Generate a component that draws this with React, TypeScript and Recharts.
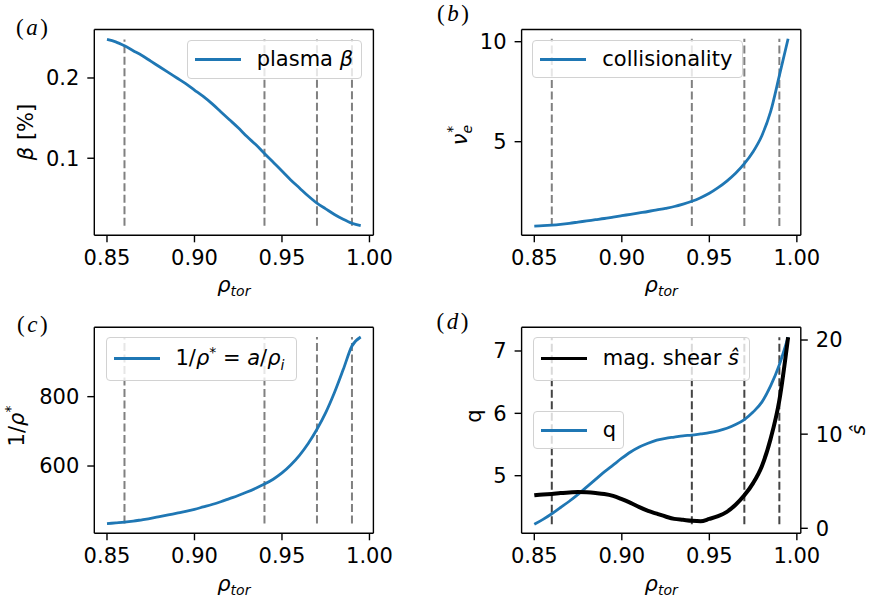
import React from "react";
import { LineChart, Line, XAxis, YAxis, ReferenceLine, Legend } from "recharts";

// radial grid (rho_tor) and profiles
const rho = [0.85, 0.855, 0.86, 0.865, 0.87, 0.875, 0.88, 0.885, 0.89, 0.895, 0.9, 0.905, 0.91, 0.915, 0.92, 0.925, 0.93, 0.935, 0.94, 0.945, 0.95, 0.955, 0.96, 0.965, 0.97, 0.975, 0.98, 0.985, 0.99, 0.995];
const beta = [0.248, 0.245, 0.24, 0.234, 0.228, 0.221, 0.214, 0.207, 0.2, 0.193, 0.185, 0.177, 0.168, 0.158, 0.148, 0.138, 0.127, 0.117, 0.106, 0.095, 0.084, 0.073, 0.063, 0.053, 0.044, 0.037, 0.03, 0.024, 0.019, 0.016];
const nuE = [0.78, 0.8, 0.83, 0.87, 0.92, 0.98, 1.04, 1.1, 1.16, 1.23, 1.3, 1.37, 1.44, 1.51, 1.59, 1.67, 1.76, 1.88, 2.02, 2.2, 2.42, 2.7, 3.03, 3.42, 3.9, 4.5, 5.3, 6.5, 8.3, 10.15];
const invRhoStar = [434, 436, 438, 441, 445, 449, 454, 459, 464, 469, 475, 482, 489, 497, 506, 515, 525, 536, 548, 562, 580, 603, 631, 665, 706, 754, 812, 878, 946, 972];
const qProfile = [4.22, 4.3, 4.39, 4.49, 4.59, 4.7, 4.82, 4.94, 5.06, 5.17, 5.28, 5.38, 5.46, 5.52, 5.57, 5.6, 5.62, 5.64, 5.65, 5.67, 5.69, 5.72, 5.76, 5.82, 5.9, 6.02, 6.18, 6.44, 6.78, 7.22];
const shear = [3.5, 3.6, 3.65, 3.75, 3.8, 3.85, 3.82, 3.75, 3.65, 3.45, 3.1, 2.7, 2.25, 1.85, 1.55, 1.25, 1.0, 0.9, 0.8, 0.75, 1.0, 1.3, 1.75, 2.5, 3.5, 4.8, 6.6, 9.5, 13.6, 20.3];

const markers = [0.86, 0.94, 0.97, 0.99];
const xTicks = [0.85, 0.9, 0.95, 1.0];
const betaTicks = [0.1, 0.2];
const nuTicks = [5, 10];
const invRhoTicks = [600, 800];
const qTicks = [5, 6, 7];
const shearTicks = [0, 10, 20];

const rows = rho.map((r, i) => ({
  rho: r, beta: beta[i], nu: nuE[i], inv: invRhoStar[i], q: qProfile[i], s: shear[i],
}));

const FONT = "'DejaVu Sans', sans-serif";
const SERIF = "'Liberation Serif', 'DejaVu Serif', serif";
const BLUE = "#1f77b4";
const W = 435, H = 301, XH = 60;
const X_DOMAIN: [number, number] = [0.84275, 1.00225];
const AXIS = { stroke: "#000", strokeWidth: 1.4 };
const TICK = { fontSize: 21, fill: "#000", fontFamily: FONT };

type Box = { l: number; t: number; r: number; b: number };
type Item = { left: number; top: number; width: number; height: number; color: string; label: React.ReactNode };

function LegendBoxes({ items }: { items: Item[] }) {
  return (
    <div style={{ position: "relative" }}>
      {items.map((it, i) => (
        <div key={i} style={{
          position: "absolute", left: it.left, top: it.top, width: it.width, height: it.height,
          boxSizing: "border-box", border: "1px solid #d2d2d2", borderRadius: 4,
          background: "rgba(255,255,255,0.8)", display: "flex", alignItems: "center",
          fontFamily: FONT, fontSize: 21, color: "#000", whiteSpace: "nowrap",
        }}>
          <span style={{ marginLeft: 7, width: 46, height: 3, background: it.color, flex: "none" }} />
          <span style={{ marginLeft: 16, lineHeight: 1 }}>{it.label}</span>
        </div>
      ))}
    </div>
  );
}

// axis labels + panel letter, hung on the left y axis label slot
const Decor = ({ children }: { children?: React.ReactNode; viewBox?: unknown }) => <g>{children}</g>;

const XLab = ({ cx, y }: { cx: number; y: number }) => (
  <text x={cx} y={y} textAnchor="middle" fontSize={21} fontFamily={FONT} fill="#000">
    <tspan fontStyle="italic">ρ</tspan>
    <tspan fontStyle="italic" fontSize={14} dy={4}>tor</tspan>
  </text>
);

const Title = ({ x, y, c }: { x: number; y: number; c: string }) => (
  <text x={x} y={y} fontFamily={SERIF} fontSize={23} letterSpacing={2.5} fill="#000">
    (<tspan fontStyle="italic">{c}</tspan>)
  </text>
);

const fmtX = (v: number) => v.toFixed(2);

type PanelProps = {
  pos: { left: number; top: number };
  box: Box;
  dataKey: string;
  values: number[];
  yDomain: [number, number];
  yTicks: number[];
  yFmt: (v: number) => string;
  decor: React.ReactNode;
  legend: Item[];
};

function Panel({ pos, box, dataKey, values, yDomain, yTicks, yFmt, decor, legend }: PanelProps) {
  const lo = Math.min(...values);
  const hi = Math.max(...values);
  return (
    <div style={{ position: "absolute", left: pos.left, top: pos.top }}>
      <LineChart width={W} height={H} data={rows}
        margin={{ top: box.t - 1, right: W - box.r - 1, bottom: H - box.b - XH, left: 0 }}>
        <XAxis dataKey="rho" type="number" domain={X_DOMAIN} allowDataOverflow ticks={xTicks} interval={0}
          tickFormatter={fmtX} tick={TICK} tickSize={7} tickMargin={8} tickLine={AXIS} axisLine={AXIS} height={XH} />
        <XAxis xAxisId="top" orientation="top" dataKey="rho" type="number" domain={X_DOMAIN} allowDataOverflow
          tick={false} tickLine={false} axisLine={AXIS} height={1} />
        <YAxis type="number" domain={yDomain} allowDataOverflow ticks={yTicks} interval={0} tickFormatter={yFmt}
          tick={TICK} tickSize={7} tickMargin={8} tickLine={AXIS} axisLine={AXIS} width={box.l}
          label={<Decor>{decor}</Decor>} />
        <YAxis yAxisId="right" orientation="right" type="number" domain={[0, 1]}
          tick={false} tickLine={false} axisLine={AXIS} width={1} />
        {markers.map((m) => (
          <ReferenceLine key={m} segment={[{ x: m, y: lo }, { x: m, y: hi }]}
            stroke="#808080" strokeDasharray="8 3.5" strokeWidth={2} />
        ))}
        <Line dataKey={dataKey} type="monotone" stroke={BLUE} strokeWidth={2.8} dot={false} isAnimationActive={false} />
        <Legend content={() => <LegendBoxes items={legend} />} verticalAlign="middle" align="center" layout="horizontal"
          wrapperStyle={{ left: 0, top: 0, width: 0, height: 0 }} />
      </LineChart>
    </div>
  );
}

function ShearPanel() {
  const box: Box = { l: 86.6, t: 26.3, r: 365.8, b: 232.3 };
  const lo = Math.min(...qProfile);
  const hi = Math.max(...qProfile);
  const decor = (
    <>
      <Title x={1.5} y={28} c="d" />
      <XLab cx={(box.l + box.r) / 2} y={box.b + 58} />
      <text transform="translate(46,115) rotate(-90)" textAnchor="middle" fontSize={21} fontFamily={FONT} fill="#000">q</text>
      <text transform="translate(430,129) rotate(-90)" textAnchor="middle" fontSize={20} fontFamily={FONT} fontStyle="italic" fill="#000">ŝ</text>
    </>
  );
  const legend: Item[] = [
    { left: 97.7, top: 35.5, width: 217.3, height: 44.5, color: "#000", label: <>mag. shear <i>ŝ</i></> },
    { left: 97.7, top: 110.3, width: 91.3, height: 38, color: BLUE, label: "q" },
  ];
  return (
    <div style={{ position: "absolute", left: 435, top: 301 }}>
      <LineChart width={W} height={H} data={rows}
        margin={{ top: box.t - 1, right: 0, bottom: H - box.b - XH, left: 0 }}>
        <XAxis dataKey="rho" type="number" domain={X_DOMAIN} allowDataOverflow ticks={xTicks} interval={0}
          tickFormatter={fmtX} tick={TICK} tickSize={7} tickMargin={8} tickLine={AXIS} axisLine={AXIS} height={XH} />
        <XAxis xAxisId="top" orientation="top" dataKey="rho" type="number" domain={X_DOMAIN} allowDataOverflow
          tick={false} tickLine={false} axisLine={AXIS} height={1} />
        <YAxis yAxisId="q" type="number" domain={[4.076, 7.38]} allowDataOverflow ticks={qTicks} interval={0}
          tick={TICK} tickSize={7} tickMargin={8} tickLine={AXIS} axisLine={AXIS} width={box.l}
          label={<Decor>{decor}</Decor>} />
        <YAxis yAxisId="s" orientation="right" type="number" domain={[-0.53, 21.35]} allowDataOverflow ticks={shearTicks}
          interval={0} tick={TICK} tickSize={7} tickMargin={8} tickLine={AXIS} axisLine={AXIS} width={W - box.r} />
        {markers.map((m) => (
          <ReferenceLine key={m} yAxisId="q" segment={[{ x: m, y: lo }, { x: m, y: hi }]}
            stroke="#444" strokeDasharray="8 3.5" strokeWidth={2} />
        ))}
        <Line yAxisId="q" dataKey="q" type="monotone" stroke={BLUE} strokeWidth={2.8} dot={false} isAnimationActive={false} />
        <Line yAxisId="s" dataKey="s" type="monotone" stroke="#000" strokeWidth={4} dot={false} isAnimationActive={false} />
        <Legend content={() => <LegendBoxes items={legend} />} verticalAlign="middle" align="center" layout="horizontal"
          wrapperStyle={{ left: 0, top: 0, width: 0, height: 0 }} />
      </LineChart>
    </div>
  );
}

export default function App() {
  const boxA: Box = { l: 94.3, t: 29.5, r: 373.4, b: 235.3 };
  const boxB: Box = { l: 86.6, t: 29.5, r: 365.8, b: 235.3 };
  const boxC: Box = { l: 94.3, t: 26.3, r: 373.4, b: 232.3 };
  return (
    <div style={{ position: "absolute", left: 0, top: 0, width: 870, height: 602, background: "#fff", overflow: "hidden" }}>
      <Panel pos={{ left: 0, top: 0 }} box={boxA} dataKey="beta" values={beta}
        yDomain={[0.004, 0.2604]} yTicks={betaTicks} yFmt={(v) => v.toFixed(1)}
        decor={
          <>
            <Title x={16} y={35} c="a" />
            <XLab cx={(boxA.l + boxA.r) / 2} y={boxA.b + 57} />
            <text transform="translate(33,132) rotate(-90)" textAnchor="middle" fontSize={21} fontFamily={FONT} fill="#000">
              <tspan fontStyle="italic">β</tspan> [%]
            </text>
          </>
        }
        legend={[{ left: 186.7, top: 40, width: 175, height: 39, color: BLUE, label: <>plasma <i>β</i></> }]}
      />
      <Panel pos={{ left: 435, top: 0 }} box={boxB} dataKey="nu" values={nuE}
        yDomain={[0.32, 10.61]} yTicks={nuTicks} yFmt={(v) => String(v)}
        decor={
          <>
            <Title x={2} y={20.5} c="b" />
            <XLab cx={(boxB.l + boxB.r) / 2} y={boxB.b + 57} />
            <text transform="translate(32,135) rotate(-90)" textAnchor="middle" fontSize={21} fontFamily={FONT} fill="#000">
              <tspan fontStyle="italic">ν</tspan>
              <tspan fontStyle="italic" fontSize={14} dy={5}>e</tspan>
              <tspan fontSize={14} dx={-8} dy={-15}>*</tspan>
            </text>
          </>
        }
        legend={[{ left: 97.3, top: 40.3, width: 210.3, height: 38, color: BLUE, label: "collisionality" }]}
      />
      <Panel pos={{ left: 0, top: 301 }} box={boxC} dataKey="inv" values={invRhoStar}
        yDomain={[406, 1000]} yTicks={invRhoTicks} yFmt={(v) => String(v)}
        decor={
          <>
            <Title x={17} y={31} c="c" />
            <XLab cx={(boxC.l + boxC.r) / 2} y={boxC.b + 58} />
            <text transform="translate(24,125) rotate(-90)" textAnchor="middle" fontSize={21} fontFamily={FONT} fill="#000">
              1/<tspan fontStyle="italic">ρ</tspan>
              <tspan fontSize={14} dy={-9}>*</tspan>
            </text>
          </>
        }
        legend={[{
          left: 105.5, top: 36, width: 191, height: 43.5, color: BLUE,
          label: <>1/<i>ρ</i><sup style={{ fontSize: 14 }}>*</sup> = <i>a</i>/<i>ρ</i><sub style={{ fontSize: 14, fontStyle: "italic" }}>i</sub></>,
        }]}
      />
      <ShearPanel />
    </div>
  );
}
